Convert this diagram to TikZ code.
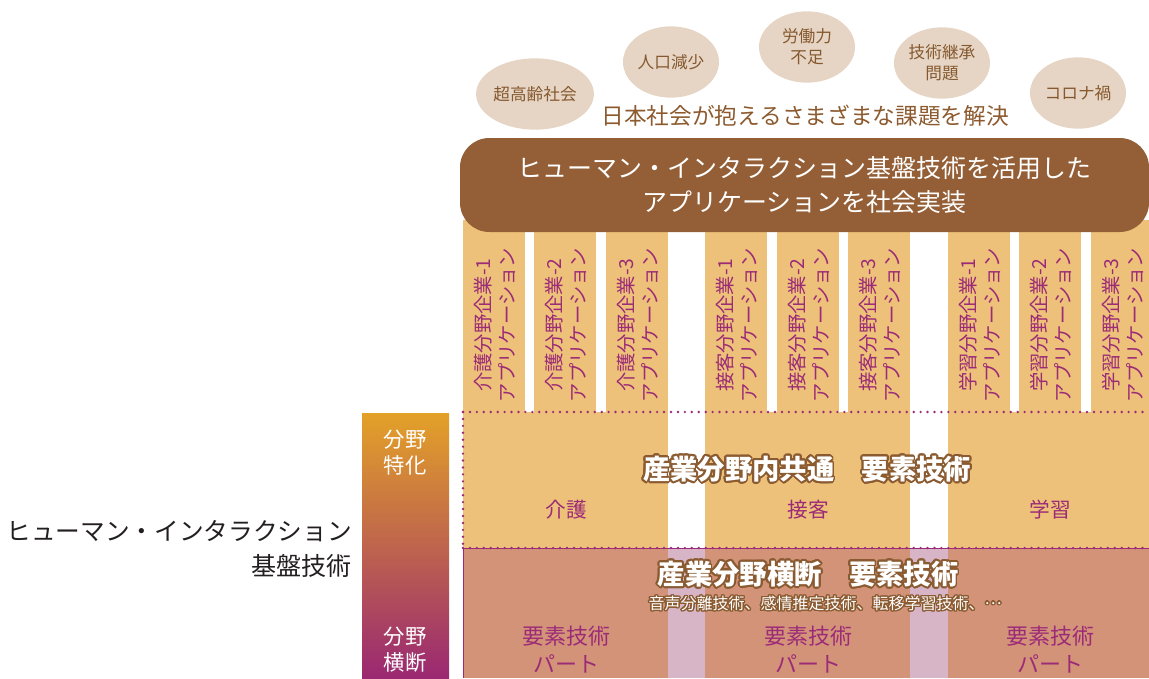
\documentclass[tikz,border=0pt]{standalone}
\usepackage{fontspec}
\setmainfont{Noto Sans CJK JP}
\usepackage{contour}
\contourlength{1.4pt}
\contournumber{24}
\usetikzlibrary{shapes.geometric}
\definecolor{bubblec}{HTML}{E6D5C4}
\definecolor{bubbletxt}{HTML}{85592F}
\definecolor{brownbox}{HTML}{945F36}
\definecolor{browntxt}{HTML}{8C5A2E}
\definecolor{colfill}{HTML}{EDC179}
\definecolor{purp}{HTML}{9C2B77}
\definecolor{salmon}{HTML}{D39379}
\definecolor{gappink}{HTML}{D8B5C6}
\definecolor{outl}{HTML}{8A5A30}
\definecolor{gradtop}{HTML}{E3A128}
\definecolor{gradmid}{HTML}{C4744F}
\definecolor{gradbot}{HTML}{9A2872}
\definecolor{labeltxt}{HTML}{231F20}
\tikzset{
  bubble/.style={ellipse,fill=bubblec,minimum width=72pt,minimum height=53.5pt,inner sep=0pt,align=center,text=bubbletxt,font=\fontsize{12.5}{16}\selectfont},
  coltxt/.style={rotate=90,align=center,text=purp,inner sep=0pt,font=\fontsize{14.5}{18}\selectfont},
  grouplbl/.style={text=purp,font=\fontsize{15.5}{20}\selectfont},
  partlbl/.style={text=purp,align=center,font=\fontsize{16.5}{21}\selectfont},
  whitelbl/.style={text=white,align=center,font=\fontsize{16}{19.5}\selectfont},
  dotline/.style={draw=purp,line width=2pt,line cap=round,dash pattern=on 0pt off 5.2pt},
}
\begin{document}
\begin{tikzpicture}[x=0.75pt,y=-0.75pt]
\useasboundingbox (0,0) rectangle (1149,678);
% bubbles
\node[bubble] (b1) at (535,94) {超高齢社会};
\node[bubble] (b2) at (671,62) {人口減少};
\node[bubble] (b3) at (807,47) {労働力\\不足};
\node[bubble] (b4) at (942,63) {技術継承\\問題};
\node[bubble] (b5) at (1078,93) {コロナ禍};
\node[text=browntxt,font=\fontsize{17}{20}\selectfont] (issue) at (805,116) {日本社会が抱えるさまざまな課題を解決};
% columns
\foreach \cx [count=\i] in {494,565,637,736,808,879,979,1050,1122}{
  \fill[colfill] (\cx-31,220) rectangle (\cx+31,413);
}
% middle regions
\fill[colfill] (463,412) rectangle (668,548);
\fill[colfill] (705,412) rectangle (910,548);
\fill[colfill] (948,412) rectangle (1149,548);
% bottom region
\fill[salmon] (463,548) rectangle (1149,678);
\fill[gappink] (668,548) rectangle (705,678);
\fill[gappink] (910,548) rectangle (948,678);
\draw[purp,line width=0.6pt] (463,678) -- (463,548) -- (1149,548);
\draw[dotline] (463,412) -- (1149,412);
\draw[dotline] (463,412) -- (463,548);
\draw[dotline] (463,548) -- (1149,548);
% brown box
\node[draw=none,fill=brownbox,rounded corners=22pt,minimum width=516.75pt,minimum height=70.5pt,inner sep=0pt] (box) at (804.5,185) {};
\node[text=white,align=center,font=\fontsize{18.7}{25.5}\selectfont] (boxtxt) at (box.center) {ヒューマン・インタラクション基盤技術を活用した\\アプリケーションを社会実装};
% column texts
\node[coltxt] (c1) at (495,325) {介護分野企業-1\\アプリケーション};
\node[coltxt] (c2) at (566,325) {介護分野企業-2\\アプリケーション};
\node[coltxt] (c3) at (638,325) {介護分野企業-3\\アプリケーション};
\node[coltxt] (c4) at (737,325) {接客分野企業-1\\アプリケーション};
\node[coltxt] (c5) at (809,325) {接客分野企業-2\\アプリケーション};
\node[coltxt] (c6) at (880,325) {接客分野企業-3\\アプリケーション};
\node[coltxt] (c7) at (980,325) {学習分野企業-1\\アプリケーション};
\node[coltxt] (c8) at (1051,325) {学習分野企業-2\\アプリケーション};
\node[coltxt] (c9) at (1123,325) {学習分野企業-3\\アプリケーション};
% middle labels
\node[font=\fontsize{20.5}{24}\selectfont\bfseries] (midtitle) at (807,470) {\contour{outl}{\textcolor{white}{産業分野内共通　要素技術}}};
\node[grouplbl] (g1) at (566,510) {介護};
\node[grouplbl] (g2) at (808,510) {接客};
\node[grouplbl] (g3) at (1050,510) {学習};
% bottom labels
\node[font=\fontsize{20.5}{24}\selectfont\bfseries] (bottitle) at (808,575) {\contour{outl}{\textcolor{white}{産業分野横断　要素技術}}};
\node[font=\fontsize{12}{14}\selectfont] (botsub) at (825,604) {\contourlength{1pt}\contour{outl}{\textcolor{white}{音声分離技術、感情推定技術、転移学習技術、\raisebox{0.6ex}{…}}}};
\node[partlbl] (p1) at (566,650) {要素技術\\パート};
\node[partlbl] (p2) at (808,650) {要素技術\\パート};
\node[partlbl] (p3) at (1050,650) {要素技術\\パート};
% gradient bar
\shade[top color=gradtop,middle color=gradmid,bottom color=gradbot] (362,413) rectangle (449,678);
\node[whitelbl] (spec) at (405,453) {分野\\特化};
\node[whitelbl] (cross) at (405,650) {分野\\横断};
% left label
\node[anchor=east,text=labeltxt,font=\fontsize{18.5}{24}\selectfont,inner sep=0pt] (hl1) at (352,531) {ヒューマン・インタラクション};
\node[anchor=east,text=labeltxt,font=\fontsize{18.8}{24}\selectfont,inner sep=0pt] (hl2) at (352,566) {基盤技術};
\end{tikzpicture}
\end{document}
